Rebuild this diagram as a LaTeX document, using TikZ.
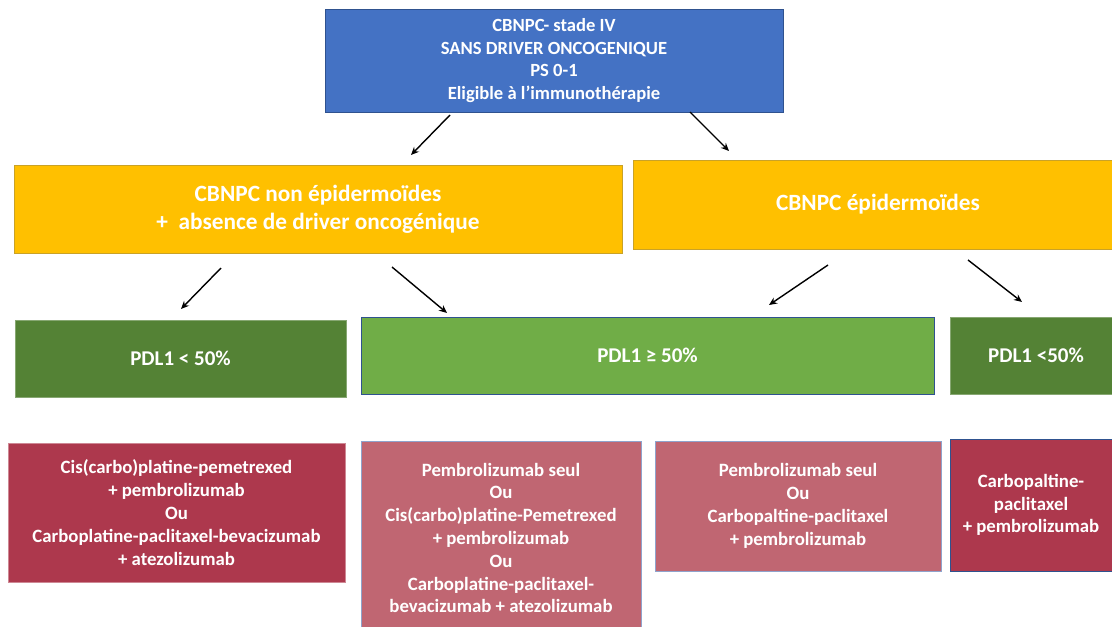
\documentclass[tikz,border=0pt]{standalone}
\usepackage{fontspec}
\setmainfont{Carlito}
\usetikzlibrary{arrows.meta}
\definecolor{cblue}{HTML}{4472C4}
\definecolor{cblueb}{HTML}{2F528F}
\definecolor{cyel}{HTML}{FFC000}
\definecolor{cyelb}{HTML}{C9A227}
\definecolor{cdgreen}{HTML}{548235}
\definecolor{clgreen}{HTML}{70AD47}
\definecolor{cdred}{HTML}{AD384D}
\definecolor{cpink}{HTML}{C06672}
\definecolor{cpinkb}{HTML}{8FA3CC}
\tikzset{
  box/.style={rectangle, inner sep=0pt, outer sep=0pt, align=center, text=white, font=\bfseries},
  arr/.style={-{Stealth[length=8pt,width=7pt]}, line width=1.4pt, black},
  topfont/.style={font=\bfseries\fontsize{18.6}{22.7}\selectfont},
  yelfont/.style={font=\bfseries\fontsize{23.3}{28}\selectfont},
  pdlfont/.style={font=\bfseries\fontsize{21}{24}\selectfont},
  txfont/.style={font=\bfseries\fontsize{18.8}{22.8}\selectfont},
}
\begin{document}
\begin{tikzpicture}[x=1pt,y=-1pt]
\useasboundingbox (0,0) rectangle (1112,627);
\clip (0,0) rectangle (1112,627);
% top
\node[box, fill=cblue, draw=cblueb, line width=0.8pt, minimum width=458pt, minimum height=103pt, topfont] (top) at (554,60.5)
  {CBNPC- stade IV\\SANS DRIVER ONCOGENIQUE\\PS 0-1\\Eligible à l’immunothérapie};
% yellow
\node[box, fill=cyel, draw=cyelb, line width=0.8pt, minimum width=608pt, minimum height=88pt, yelfont] (nonepi) at (318,209)
  {CBNPC non épidermoïdes\\+\ \ absence de driver oncogénique};
\node[box, fill=cyel, draw=cyelb, line width=0.8pt, minimum width=490pt, minimum height=89pt, yelfont] (epi) at (878,204.5)
  {CBNPC épidermoïdes};
% green
\node[box, fill=cdgreen, draw=cdgreen!70!white, line width=0.6pt, minimum width=331pt, minimum height=77pt, pdlfont] (g1) at (180.5,358.5) {PDL1 < 50\%};
\node[box, fill=clgreen, draw=cblueb, line width=0.8pt, minimum width=573pt, minimum height=77pt, pdlfont] (g2) at (647.5,355.5) {PDL1 ≥ 50\%};
\node[box, fill=cdgreen, draw=cdgreen!70!white, line width=0.6pt, minimum width=172pt, minimum height=77pt, pdlfont] (g3) at (1036,355.5) {PDL1 <50\%};
% bottom
\node[box, fill=cdred, draw=cdred!60!white, line width=0.6pt, minimum width=337pt, minimum height=139pt, txfont] (r1) at (176.5,512.5)
  {Cis(carbo)platine-pemetrexed\\+ pembrolizumab\\Ou\\Carboplatine-paclitaxel-bevacizumab\\+ atezolizumab};
\node[box, fill=cpink, draw=cpinkb, line width=0.8pt, minimum width=280pt, minimum height=194pt, txfont] (r2) at (501,538)
  {Pembrolizumab seul\\Ou\\Cis(carbo)platine-Pemetrexed\\+ pembrolizumab\\Ou\\Carboplatine-paclitaxel-\\bevacizumab + atezolizumab};
\node[box, fill=cpink, draw=cpinkb, line width=0.8pt, minimum width=286pt, minimum height=130pt, txfont] (r3) at (798,506)
  {Pembrolizumab seul\\Ou\\Carbopaltine-paclitaxel\\+ pembrolizumab};
\node[box, fill=cdred, draw=cblueb, line width=0.8pt, minimum width=162pt, minimum height=132pt, txfont] (r4) at (1031,505)
  {Carbopaltine-\\paclitaxel\\+ pembrolizumab};
% arrows
\coordinate (a1s) at (450,115); \coordinate (a1e) at (411,155);
\coordinate (a2s) at (690,112); \coordinate (a2e) at (729,151);
\coordinate (a3s) at (221,268); \coordinate (a3e) at (181,309);
\coordinate (a4s) at (392,267); \coordinate (a4e) at (447,313);
\coordinate (a5s) at (828,265); \coordinate (a5e) at (769,305);
\coordinate (a6s) at (968,260); \coordinate (a6e) at (1022,302);
\draw[arr] (a1s) -- (a1e);
\draw[arr] (a2s) -- (a2e);
\draw[arr] (a3s) -- (a3e);
\draw[arr] (a4s) -- (a4e);
\draw[arr] (a5s) -- (a5e);
\draw[arr] (a6s) -- (a6e);
\end{tikzpicture}
\end{document}
